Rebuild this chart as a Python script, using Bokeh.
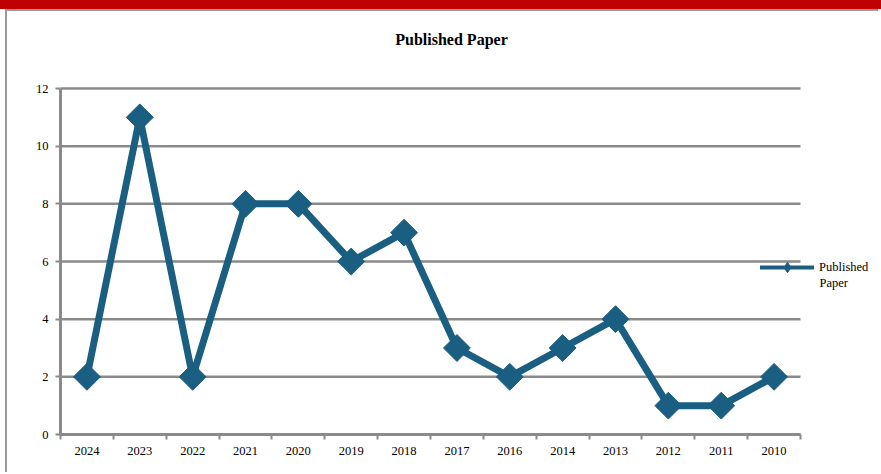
from bokeh.plotting import figure
from bokeh.layouts import column
from bokeh.models import (Range1d, FixedTicker, Legend, LegendItem, ColumnDataSource,
                          Label, Div)
from bokeh.embed import file_html
from bokeh.resources import INLINE

years = ["2024", "2023", "2022", "2021", "2020", "2019", "2018", "2017",
         "2016", "2014", "2013", "2012", "2011", "2010"]
papers = [2, 11, 2, 8, 8, 6, 7, 3, 2, 3, 4, 1, 1, 2]
y_ticks = [0, 2, 4, 6, 8, 10, 12]
series_name = ["Published", "Paper"]   # legend label, wrapped on two lines
title_text = "Published Paper"

FONT = "Liberation Serif"
LINE = "#1A5E82"
GRAY = "#8A8A8A"

W, H = 873, 463          # canvas size
LEFT, BOTTOM = 53, 40    # space for the axes
PLOT_W, PLOT_H = 740, 346  # pixel size of the category / value area

n = len(years)
xc = [i + 0.5 for i in range(n)]
src = ColumnDataSource(dict(x=xc, y=papers, year=years))

x_end = n * (W - LEFT) / PLOT_W
y_end = max(y_ticks) * (H - BOTTOM) / PLOT_H

p = figure(width=W, height=H, output_backend="svg", toolbar_location=None,
           x_range=Range1d(0, x_end), y_range=Range1d(0, y_end),
           min_border_left=LEFT, min_border_right=0, min_border_top=0,
           min_border_bottom=BOTTOM, margin=0)
p.outline_line_color = None
p.background_fill_color = "white"
p.border_fill_color = "white"
p.styles = {"margin-left": "5px", "border-left": "2px solid #9A9A9A",
            "border-top": "2px solid #9A9A9A"}

# x axis: labels at centres, tick marks at category boundaries (minor ticks)
p.xaxis.ticker = FixedTicker(ticks=xc, minor_ticks=list(range(n + 1)))
p.xaxis.major_label_overrides = {x: y for x, y in zip(xc, years)}
p.xaxis.bounds = (0, n)
p.xaxis.major_tick_out = 0
p.xaxis.major_tick_in = 0
p.xaxis.minor_tick_out = 5
p.xaxis.minor_tick_in = 0
p.xaxis.minor_tick_line_color = GRAY
p.xaxis.minor_tick_line_width = 2
p.xaxis.major_label_standoff = 7
p.xgrid.grid_line_color = None

p.yaxis.ticker = FixedTicker(ticks=y_ticks)
p.yaxis.bounds = (0, max(y_ticks))
p.yaxis.minor_tick_line_color = None
p.yaxis.major_tick_out = 5
p.yaxis.major_tick_in = 0
p.yaxis.major_tick_line_color = GRAY
p.yaxis.major_tick_line_width = 2
p.yaxis.major_label_standoff = 7
p.ygrid.grid_line_color = None

for ax in (p.xaxis, p.yaxis):
    ax.axis_line_color = GRAY
    ax.axis_line_width = 3
    ax.major_label_text_font = FONT
    ax.major_label_text_font_size = "12.5px"
    ax.major_label_text_color = "black"

# horizontal grid lines limited to the category area
grid_src = ColumnDataSource(dict(x0=[0] * len(y_ticks), x1=[n] * len(y_ticks),
                                 y=y_ticks))
p.segment(x0="x0", x1="x1", y0="y", y1="y", source=grid_src,
          line_color=GRAY, line_width=2.5)

p.line("x", "y", source=src, line_color=LINE, line_width=7, line_join="round")
p.scatter("x", "y", source=src, marker="square", angle=0.785398, size=19,
          fill_color=LINE, line_color=LINE)

# title
p.add_layout(Label(x=391, y=H - BOTTOM - 28, x_units="screen", y_units="screen",
                   text=title_text, text_font=FONT, text_font_size="16px",
                   text_font_style="bold", text_align="center",
                   text_baseline="middle", text_color="black"))

# legend-only glyphs (smaller, as in the reference legend)
hidden = ColumnDataSource(dict(x=[float("nan")], y=[float("nan")]))
lg_line = p.line("x", "y", source=hidden, line_color=LINE, line_width=4, line_cap="round")
lg_mark = p.scatter("x", "y", source=hidden, marker="diamond", size=12,
                    fill_color=LINE, line_color=LINE)
legend = Legend(items=[LegendItem(label=series_name[0], renderers=[lg_line, lg_mark])],
                location=(700, 154), glyph_width=54, glyph_height=26,
                label_standoff=5, padding=0, margin=0, spacing=0,
                border_line_color=None, background_fill_alpha=0,
                label_text_font=FONT, label_text_font_size="12.5px",
                label_text_color="black", label_height=14)
p.add_layout(legend, "center")
p.add_layout(Label(x=759, y=152, x_units="screen", y_units="screen",
                   text=series_name[1], text_font=FONT, text_font_size="12.5px",
                   text_align="left", text_baseline="middle", text_color="black"))

band = Div(text="", width=881, height=9, margin=0,
           styles={"background-color": "#C00000"})

layout = column(band, p, spacing=0, margin=0)
open("out.html", "w").write(file_html(layout, INLINE))
